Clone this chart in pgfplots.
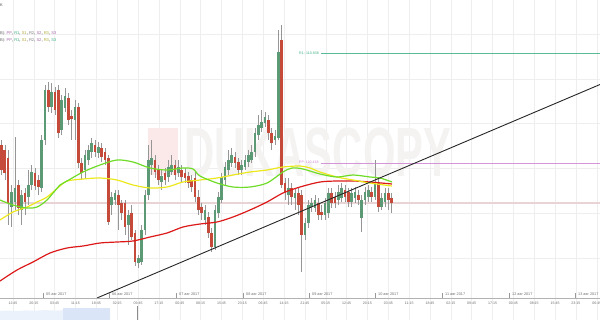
\documentclass[border=0pt]{standalone}
\usepackage{fontspec}
\setmainfont{Liberation Sans}
\usepackage{pgfplots}
\pgfplotsset{compat=1.18}
\usepackage{pgfplotstable}
\definecolor{upc}{RGB}{92,154,118}
\definecolor{dnc}{RGB}{198,74,58}
\definecolor{wick}{RGB}{150,150,150}
\definecolor{gridc}{RGB}{238,238,238}
\definecolor{maG}{RGB}{110,220,40}
\definecolor{maY}{RGB}{236,232,30}
\definecolor{maR}{RGB}{220,24,24}
\definecolor{ppcol}{RGB}{205,130,210}
\definecolor{rescol}{RGB}{60,175,130}
\definecolor{labc}{RGB}{110,110,110}
\definecolor{navL}{RGB}{236,242,252}
\definecolor{navD}{RGB}{218,230,248}
\definecolor{wmT}{RGB}{245,242,242}
\definecolor{wmL}{RGB}{251,232,232}
\definecolor{plinecol}{RGB}{232,212,212}

\pgfplotstableread{
x o c h l
11.5 207 192 185 227
14.8 202 188 137 210
21.5 210 195 190 225
28.2 197 185 170 205
31.5 185 172 165 190
41.5 188 140 135 192
44.8 140 90 85 145
51.5 107 92 83 113
61.5 130 100 95 135
64.8 108 96 88 112
74.8 120 107 100 140
84.8 170 155 150 178
88.2 160 150 145 165
91.5 152 143 138 158
98.2 153 147 142 158
111.5 205 197 192 215
114.8 200 193 190 205
128.2 225 215 210 245
138.2 263 258 255 268
141.5 262 230 225 265
144.8 230 195 190 235
148.2 195 160 145 200
151.5 165 158 140 175
161.5 182 176 170 190
168.2 177 167 160 182
171.5 172 165 155 175
178.2 173 167 160 177
204.8 220 210 205 225
214.8 247 210 205 250
218.2 213 197 192 218
221.5 200 177 173 203
224.8 180 167 162 185
228.2 170 160 150 175
231.5 163 155 148 167
241.5 170 165 160 175
244.8 167 160 155 170
248.2 162 155 150 167
251.5 160 152 145 163
254.8 152 133 128 157
258.2 135 125 115 140
261.5 128 122 110 132
264.8 123 117 112 127
274.8 140 136 130 145
278.2 138 52 30 140
288.2 195 188 178 205
294.8 198 193 188 210
304.8 235 223 218 240
308.2 223 205 200 228
311.5 207 203 198 212
314.8 208 200 195 212
324.8 215 203 198 220
328.2 213 193 188 218
338.2 200 192 185 205
341.5 198 188 183 202
351.5 202 193 188 207
354.8 198 192 187 203
361.5 218 200 195 232
364.8 200 192 187 205
368.2 197 190 185 202
374.8 197 183 160 200
381.5 207 198 193 210
384.8 202 193 188 207
}\up

\pgfplotstableread{
x o c h l
1.5 145 170 140 175
4.8 150 173 145 180
8.2 158 203 150 225
18.2 185 208 180 215
24.8 193 202 188 215
34.8 173 186 168 190
38.2 180 187 175 195
48.2 90 107 82 112
54.8 92 110 87 115
58.2 90 133 85 138
68.2 98 120 93 125
71.5 116 119 110 140
78.2 107 163 103 168
81.5 163 173 158 180
94.8 145 152 140 157
101.5 148 157 143 162
104.8 152 160 148 165
108.2 158 222 155 225
118.2 195 205 190 230
121.5 203 213 200 220
124.8 203 227 200 235
131.5 213 237 205 240
134.8 233 262 230 266
154.8 160 172 155 178
158.2 170 180 165 185
164.8 173 180 168 185
174.8 165 175 160 180
181.5 170 177 165 182
184.8 173 178 168 183
188.2 176 183 172 188
191.5 180 187 175 192
194.8 178 197 172 202
198.2 197 210 190 215
201.5 207 213 203 220
208.2 217 233 212 238
211.5 233 247 228 252
234.8 157 163 152 168
238.2 162 170 158 175
268.2 120 133 115 140
271.5 133 143 128 150
281.5 40 185 25 188
284.8 183 192 178 200
291.5 188 197 183 205
298.2 193 205 188 215
301.5 195 235 190 272
318.2 203 215 198 220
321.5 212 215 205 220
331.5 193 203 188 208
334.8 197 203 192 208
344.8 190 197 185 202
348.2 192 202 188 207
358.2 195 200 190 205
371.5 192 197 187 202
378.2 183 207 178 212
388.2 193 200 188 210
391.5 198 203 193 213
}\dn

\begin{document}
\begin{tikzpicture}
\begin{axis}[
  at={(0,0)}, anchor=south west,
  width=600bp, height=320bp, scale only axis,
  xmin=0, xmax=600, ymin=0, ymax=320, y dir=reverse,
  axis line style={draw=none}, tick style={draw=none},
  xtick={13,33.85,...,598}, ytick={34,79,123,168,213,258},
  xticklabels={}, yticklabels={},
  grid=major, major grid style={color=gridc, line width=0.5bp},
  clip=false,
]
% watermark
\fill[wmL] (axis cs:148,128) rectangle (axis cs:178,175);
\node[anchor=base west, inner sep=0pt, xscale=0.6, text=wmT, font=\fontsize{70}{70}\selectfont\bfseries] at (axis cs:184,176) {DUKASCOPY};
% horizontal price line and pivot lines (thin filled bands)
\fill[plinecol] (axis cs:0,202.4) rectangle (axis cs:600,203.6);
\fill[rescol!85] (axis cs:321,53) rectangle (axis cs:600,54.2);
\fill[ppcol!85] (axis cs:321,162.5) rectangle (axis cs:600,163.7);
\node[anchor=west, inner sep=0pt, text=rescol, font=\fontsize{3.6}{4}\selectfont] at (axis cs:299,53) {R1: 110.838};
\node[anchor=west, inner sep=0pt, text=ppcol, font=\fontsize{3.6}{4}\selectfont] at (axis cs:299,162.5) {PP: 110.418};
% wicks
\addplot[draw=none, mark=none, forget plot, error bars/.cd, y dir=both, y explicit, error mark=none,
  error bar style={draw, line width=0.5bp, color=wick}]
  table[x=x, y expr={(\thisrow{h}+\thisrow{l})/2}, y error expr={(\thisrow{l}-\thisrow{h})/2}] {\up};
\addplot[draw=none, mark=none, forget plot, error bars/.cd, y dir=both, y explicit, error mark=none,
  error bar style={draw, line width=0.5bp, color=wick}]
  table[x=x, y expr={(\thisrow{h}+\thisrow{l})/2}, y error expr={(\thisrow{l}-\thisrow{h})/2}] {\dn};
% bodies
\addplot[draw=none, mark=none, forget plot, error bars/.cd, y dir=both, y explicit, error mark=none,
  error bar style={draw, line width=2.6bp, color=upc}]
  table[x=x, y expr={(\thisrow{o}+\thisrow{c})/2}, y error expr={abs(\thisrow{o}-\thisrow{c})/2}] {\up};
\addplot[draw=none, mark=none, forget plot, error bars/.cd, y dir=both, y explicit, error mark=none,
  error bar style={draw, line width=2.6bp, color=dnc}]
  table[x=x, y expr={(\thisrow{o}+\thisrow{c})/2}, y error expr={abs(\thisrow{o}-\thisrow{c})/2}] {\dn};
% moving averages
\addplot[color=maR, line width=1.2bp, smooth] coordinates {(0,281) (17,270) (33,262) (50,253) (67,248) (83,246) (100,243) (117,242) (133,241) (150,237) (167,233) (183,227) (200,224) (217,222) (233,217) (250,210) (267,202) (283,193) (300,187) (320,182) (337,181) (353,181) (370,182) (392,184)};
\addplot[color=maY, line width=1.2bp, smooth] coordinates {(0,220) (13,212) (27,207) (37,202) (47,197) (60,186) (67,181) (83,179) (100,178) (117,180) (133,185) (150,188) (167,187) (183,182) (200,180) (217,178) (233,175) (250,172) (267,170) (283,167) (300,166) (310,168) (320,172) (337,177) (353,180) (370,183) (392,186)};
\addplot[color=maG, line width=1.2bp, smooth] coordinates {(0,200) (13,205) (27,208) (37,207) (47,200) (60,185) (67,181) (83,172) (100,165) (117,160) (133,162) (150,168) (167,170) (183,168) (193,169) (200,176) (217,183) (233,187) (250,187) (267,183) (283,172) (292,168) (303,169) (320,174) (337,177) (353,175) (370,177) (380,178) (392,182)};
% trend line
\addplot[color=black!85, line width=0.9bp] coordinates {(97,298) (600,84.5)};
% time axis
\fill[black!30] (axis cs:0,297.8) rectangle (axis cs:600,299.2);
\addplot[draw=none, fill=navL] coordinates {(0,320) (0,311) (8,310.5) (16,311.2) (25,310.4) (35,310.8) (45,310) (55,310.6) (63,310.2) (75,310.5) (85,309.8) (95,310.4) (110,310) (110,320)} -- cycle;
\fill[navD] (axis cs:63,308) rectangle (axis cs:110,320);
\draw[draw=black!45, line width=0.5bp] (axis cs:137,306) -- (axis cs:137,320);
% date ticks and labels
\pgfplotsinvokeforeach{43,109,176,243,309,375,442,509,575}{
  \draw[black!40, line width=0.5bp] (axis cs:#1,293) -- (axis cs:#1,298);
}
\begin{scope}[every node/.style={anchor=west, inner sep=0pt, text=labc, font=\fontsize{3.8}{4}\selectfont}]
\node at (axis cs:46,294.5) {05 авг 2017};
\node at (axis cs:112,294.5) {06 авг 2017};
\node at (axis cs:179,294.5) {07 авг 2017};
\node at (axis cs:246,294.5) {08 авг 2017};
\node at (axis cs:312,294.5) {09 авг 2017};
\node at (axis cs:378,294.5) {10 авг 2017};
\node at (axis cs:445,294.5) {11 авг 2017};
\node at (axis cs:512,294.5) {12 авг 2017};
\node at (axis cs:578,294.5) {13 авг 2017};
\end{scope}
\begin{scope}[every node/.style={anchor=center, inner sep=0pt, text=labc, font=\fontsize{3.6}{4}\selectfont}]
\node at (axis cs:13,303) {12:45};
\node at (axis cs:33.85,303) {20:15};
\node at (axis cs:54.7,303) {03:45};
\node at (axis cs:75.55,303) {11:15};
\node at (axis cs:96.4,303) {18:45};
\node at (axis cs:117.25,303) {02:15};
\node at (axis cs:138.1,303) {09:45};
\node at (axis cs:158.95,303) {17:15};
\node at (axis cs:179.8,303) {00:45};
\node at (axis cs:200.65,303) {08:15};
\node at (axis cs:221.5,303) {15:45};
\node at (axis cs:242.35,303) {23:15};
\node at (axis cs:263.2,303) {06:45};
\node at (axis cs:284.05,303) {14:15};
\node at (axis cs:304.9,303) {21:45};
\node at (axis cs:325.75,303) {05:15};
\node at (axis cs:346.6,303) {12:45};
\node at (axis cs:367.45,303) {20:15};
\node at (axis cs:388.3,303) {03:45};
\node at (axis cs:409.15,303) {11:15};
\node at (axis cs:430,303) {18:45};
\node at (axis cs:450.85,303) {02:15};
\node at (axis cs:471.7,303) {09:45};
\node at (axis cs:492.55,303) {17:15};
\node at (axis cs:513.4,303) {00:45};
\node at (axis cs:534.25,303) {08:15};
\node at (axis cs:555.1,303) {15:45};
\node at (axis cs:575.95,303) {23:15};
\node at (axis cs:596.8,303) {06:45};
\end{scope}
% top-left texts
\node[anchor=west, inner sep=0pt, text=black!70, font=\fontsize{4}{4}\selectfont] at (axis cs:0,5) {K};
\node[anchor=west, inner sep=0pt, font=\fontsize{4.1}{4}\selectfont] at (axis cs:0,33) {\textcolor{black!60}{B):} \textcolor{ppcol!80!black}{PP}, \textcolor{rescol}{R1}, \textcolor{olive!70}{S1}, \textcolor{gray}{R2}, \textcolor{ppcol!80!black}{S2}, \textcolor{olive!70}{R3}, \textcolor{ppcol!80!black}{S3}};
\node[anchor=west, inner sep=0pt, font=\fontsize{4.1}{4}\selectfont] at (axis cs:0,40.5) {\textcolor{black!60}{B):} \textcolor{ppcol!80!black}{PP}, \textcolor{rescol}{R1}, \textcolor{olive!70}{S1}, \textcolor{gray}{R2}, \textcolor{ppcol!80!black}{S2}, \textcolor{olive!70}{R3}, \textcolor{rescol}{S3}};
\end{axis}
\pgfresetboundingbox
\path[use as bounding box] (0,0) rectangle (600bp,320bp);
\end{tikzpicture}
\end{document}
